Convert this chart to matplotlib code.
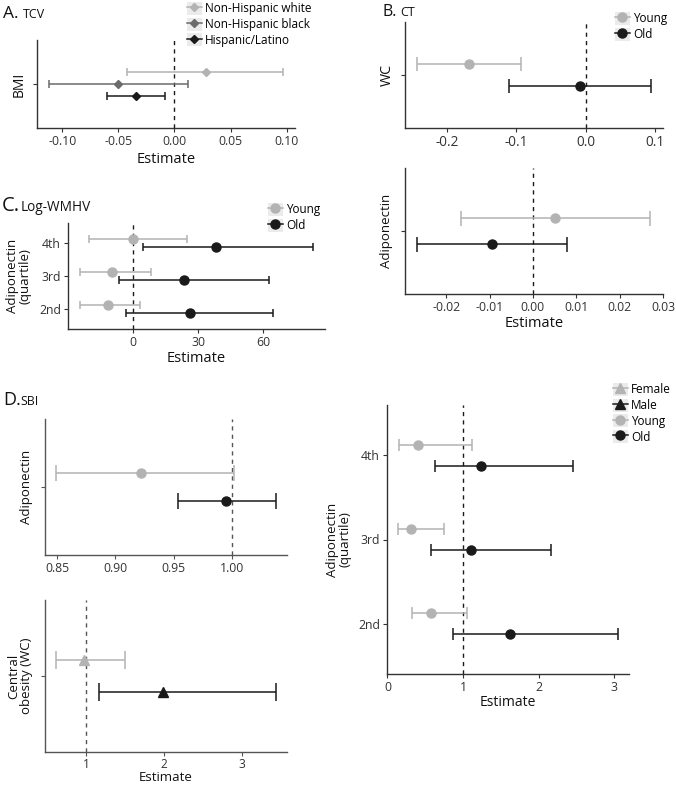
"""Forest plots of adiposity / adiponectin estimates for TCV, CT, Log-WMHV and SBI."""

import matplotlib
matplotlib.use("Agg")
import matplotlib.pyplot as plt
from matplotlib.lines import Line2D
from matplotlib.patches import Rectangle
from matplotlib.ticker import FormatStrFormatter
import numpy as np

plt.rcParams['font.family'] = ['Open Sans', 'DejaVu Sans']

W, H = 676, 787
LIGHT = "#B3B3B3"
MID = "#6B6B6B"
DARK = "#1A1A1A"
KEY_BG = "#EBEBEB"
AXIS_COL = "#333333"

# A. TCV
tcv_groups = ["Non-Hispanic white", "Non-Hispanic black", "Hispanic/Latino"]
tcv_est = [0.028, -0.050, -0.034]
tcv_lo = [-0.042, -0.112, -0.060]
tcv_hi = [0.097, 0.012, -0.008]

# B. CT
age_groups = ["Young", "Old"]
ct_wc_est = [-0.169, -0.008]
ct_wc_lo = [-0.244, -0.111]
ct_wc_hi = [-0.094, 0.095]
ct_adipo_est = [0.0052, -0.0095]
ct_adipo_lo = [-0.0165, -0.0268]
ct_adipo_hi = [0.0271, 0.0078]

# C. Log-WMHV (quartiles bottom to top)
quartiles = ["2nd", "3rd", "4th"]
wmhv_young_est = [-11.7, -9.6, 0.0]
wmhv_young_lo = [-24.7, -24.7, -20.6]
wmhv_young_hi = [3.2, 8.2, 24.7]
wmhv_old_est = [26.2, 23.5, 38.3]
wmhv_old_lo = [-3.2, -6.4, 4.7]
wmhv_old_hi = [64.2, 62.4, 83.0]

# D. SBI
sbi_adipo_est = [0.922, 0.995]
sbi_adipo_lo = [0.849, 0.954]
sbi_adipo_hi = [1.002, 1.038]
sex_groups = ["Female", "Male"]
sbi_wc_est = [0.965, 1.99]
sbi_wc_lo = [0.61, 1.16]
sbi_wc_hi = [1.50, 3.44]
sbi_q_young_est = [0.58, 0.31, 0.41]
sbi_q_young_lo = [0.32, 0.14, 0.15]
sbi_q_young_hi = [1.05, 0.75, 1.12]
sbi_q_old_est = [1.62, 1.11, 1.24]
sbi_q_old_lo = [0.87, 0.57, 0.63]
sbi_q_old_hi = [3.05, 2.17, 2.45]


def make_axes(fig, left, top, right, bottom, labelsize=8.8, spine_col=AXIS_COL, pad=2):
    ax = fig.add_axes([left / W, 1 - bottom / H, (right - left) / W, (bottom - top) / H])
    for side in ("top", "right"):
        ax.spines[side].set_visible(False)
    for side in ("left", "bottom"):
        ax.spines[side].set_color(spine_col)
        ax.spines[side].set_linewidth(1.0)
    ax.tick_params(length=3, width=0.8, color=spine_col, labelcolor="#333333",
                   labelsize=labelsize, pad=pad)
    ax.set_facecolor("none")
    return ax


def draw_ci(ax, y, est, lo, hi, color, marker="o", ms=6.5, cap=3.0):
    est, lo, hi = map(np.asarray, (est, lo, hi))
    ax.errorbar(est, y, xerr=[est - lo, hi - est], fmt=marker, color=color, ms=ms,
                capsize=cap, elinewidth=1.1, capthick=1.1, zorder=3)


def ref_line(ax, x, color=DARK):
    ax.axvline(x, color=color, lw=1.0, ls=(0, (3, 3)), zorder=1)


def set_labels(ax, ylabel, ylab_right_px, ysize, xlabel=None, xlab_top_px=None, xsize=10.5):
    left, bottom, width, height = ax.get_position().bounds
    ax.set_ylabel(ylabel, fontsize=ysize, color="#111111", linespacing=1.0)
    ax.yaxis.set_label_coords((ylab_right_px / W - left) / width, 0.5)
    if xlabel:
        ax.set_xlabel(xlabel, fontsize=xsize, color="#111111")
        ax.xaxis.set_label_coords(0.5, ((1 - xlab_top_px / H) - bottom) / height)


def add_legend(fig, labels, colors, markers, ms, left, top, fontsize=8.5):
    handles = [(Rectangle((0, 0), 1, 1, facecolor=KEY_BG, edgecolor="none"),
                Line2D([], [], color=c, marker=m, ms=ms, lw=1.1))
               for c, m in zip(colors, markers)]
    fig.legend(handles, labels, loc="upper left", bbox_to_anchor=(left / W, 1 - top / H),
               frameon=False, fontsize=fontsize, numpoints=1, handlelength=1.25,
               handleheight=1.3, handletextpad=0.3, labelspacing=0.2, borderpad=0,
               borderaxespad=0)


def panel_title(fig, x, x_name, y, letter, name, big, small):
    fig.text(x / W, 1 - y / H, letter, fontsize=big, va="baseline", color="#111111")
    fig.text(x_name / W, 1 - y / H, name, fontsize=small, va="baseline", color="#111111")


def main():
    fig = plt.figure(figsize=(W / 100, H / 100), dpi=100)

    # ---- A. TCV
    ax = make_axes(fig, 37, 40, 295, 128, labelsize=8.8)
    offsets = [0.167, 0.0, -0.167]
    colors = [LIGHT, MID, DARK]
    for i in range(3):
        draw_ci(ax, [1 + offsets[i]], [tcv_est[i]], [tcv_lo[i]], [tcv_hi[i]],
                colors[i], marker="D", ms=4.5, cap=2.9)
    ref_line(ax, 0)
    ax.set_ylim(0.4, 1.6)
    ax.set_yticks([1])
    ax.set_yticklabels([""])
    ax.set_xticks([-0.10, -0.05, 0.0, 0.05, 0.10])
    ax.xaxis.set_major_formatter(FormatStrFormatter("%.2f"))
    set_labels(ax, "BMI", 27, 10, "Estimate", 152, 10.5)
    panel_title(fig, 3, 23, 18, "A.", "TCV", 12.5, 9)
    add_legend(fig, tcv_groups, colors, ["D"] * 3, 4.5, 187, 2)

    # ---- B. CT, WC
    ax = make_axes(fig, 405, 22, 663, 128, labelsize=9.8)
    draw_ci(ax, [1.125], ct_wc_est[:1], ct_wc_lo[:1], ct_wc_hi[:1], LIGHT, cap=5)
    draw_ci(ax, [0.875], ct_wc_est[1:], ct_wc_lo[1:], ct_wc_hi[1:], DARK, cap=5)
    ref_line(ax, 0)
    ax.set_ylim(0.4, 1.6)
    ax.set_yticks([1])
    ax.set_yticklabels([""])
    ax.set_xticks([-0.2, -0.1, 0.0, 0.1])
    ax.xaxis.set_major_formatter(FormatStrFormatter("%.1f"))
    set_labels(ax, "WC", 395, 10.3)
    panel_title(fig, 383, 400, 16, "B.", "CT", 11.5, 9)
    add_legend(fig, age_groups, [LIGHT, DARK], ["o", "o"], 6.5, 615, 12)

    # ---- B. CT, adiponectin
    ax = make_axes(fig, 405, 168, 663, 294, labelsize=8.8)
    draw_ci(ax, [1.125], ct_adipo_est[:1], ct_adipo_lo[:1], ct_adipo_hi[:1], LIGHT, cap=5.4)
    draw_ci(ax, [0.875], ct_adipo_est[1:], ct_adipo_lo[1:], ct_adipo_hi[1:], DARK, cap=5.4)
    ref_line(ax, 0)
    ax.set_ylim(0.4, 1.6)
    ax.set_yticks([1])
    ax.set_yticklabels([""])
    ax.set_xticks([-0.02, -0.01, 0.0, 0.01, 0.02, 0.03])
    ax.xaxis.set_major_formatter(FormatStrFormatter("%.2f"))
    set_labels(ax, "Adiponectin", 393, 9.5, "Estimate", 316, 10.5)

    # ---- C. Log-WMHV
    ax = make_axes(fig, 68, 223, 325, 329, labelsize=8.8)
    ypos = np.arange(1, len(quartiles) + 1)
    draw_ci(ax, ypos + 0.125, wmhv_young_est, wmhv_young_lo, wmhv_young_hi, LIGHT, cap=2.9)
    draw_ci(ax, ypos - 0.125, wmhv_old_est, wmhv_old_lo, wmhv_old_hi, DARK, cap=2.9)
    ref_line(ax, 0)
    ax.set_ylim(0.4, 3.6)
    ax.set_yticks(ypos)
    ax.set_yticklabels(quartiles)
    ax.set_xticks([0, 30, 60])
    set_labels(ax, "Adiponectin\n(quartile)", 32, 9.5, "Estimate", 351, 10.5)
    panel_title(fig, 2, 21, 211, "C.", "Log-WMHV", 14.5, 9.8)
    add_legend(fig, age_groups, [LIGHT, DARK], ["o", "o"], 6.5, 268, 203)

    # ---- D. SBI, adiponectin
    ax = make_axes(fig, 45, 419, 287, 555, labelsize=8.8, spine_col="#555555")
    draw_ci(ax, [1.125], sbi_adipo_est[:1], sbi_adipo_lo[:1], sbi_adipo_hi[:1], LIGHT, cap=6.1)
    draw_ci(ax, [0.875], sbi_adipo_est[1:], sbi_adipo_lo[1:], sbi_adipo_hi[1:], DARK, cap=6.1)
    ref_line(ax, 1.0, color="#555555")
    ax.set_ylim(0.4, 1.6)
    ax.set_yticks([1])
    ax.set_yticklabels([""])
    ax.set_xticks([0.85, 0.90, 0.95, 1.00])
    ax.xaxis.set_major_formatter(FormatStrFormatter("%.2f"))
    set_labels(ax, "Adiponectin", 33, 9.5)
    panel_title(fig, 3, 20, 405, "D.", "SBI", 13, 8.8)

    # ---- D. SBI, central obesity
    ax = make_axes(fig, 45, 600, 287, 752, labelsize=8.6, spine_col="#555555", pad=1.5)
    draw_ci(ax, [1.13], sbi_wc_est[:1], sbi_wc_lo[:1], sbi_wc_hi[:1], LIGHT, marker="^", ms=7, cap=6.8)
    draw_ci(ax, [0.87], sbi_wc_est[1:], sbi_wc_lo[1:], sbi_wc_hi[1:], DARK, marker="^", ms=7, cap=6.8)
    ref_line(ax, 1.0, color="#555555")
    ax.set_ylim(0.4, 1.6)
    ax.set_yticks([1])
    ax.set_yticklabels([""])
    ax.set_xticks([1, 2, 3])
    set_labels(ax, "Central\nobesity (WC)", 33, 9.5, "Estimate", 771, 9.5)

    # ---- D. SBI, adiponectin quartiles
    ax = make_axes(fig, 387, 405, 629, 674, labelsize=8.8)
    draw_ci(ax, ypos + 0.125, sbi_q_young_est, sbi_q_young_lo, sbi_q_young_hi, LIGHT, cap=4.3)
    draw_ci(ax, ypos - 0.125, sbi_q_old_est, sbi_q_old_lo, sbi_q_old_hi, DARK, cap=4.3)
    ref_line(ax, 1.0)
    ax.set_ylim(0.4, 3.6)
    ax.set_yticks(ypos)
    ax.set_yticklabels(quartiles)
    ax.set_xticks([0, 1, 2, 3])
    set_labels(ax, "Adiponectin\n(quartile)", 352, 9.5, "Estimate", 695, 10)
    add_legend(fig, sex_groups + age_groups, [LIGHT, DARK, LIGHT, DARK],
               ["^", "^", "o", "o"], 6.5, 613, 383)

    fig.savefig("out.png", dpi=100, facecolor="white")


if __name__ == "__main__":
    main()
